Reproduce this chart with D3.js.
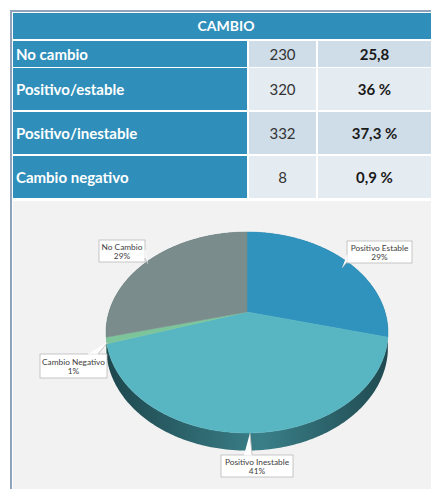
<!DOCTYPE html>
<html><head><meta charset="utf-8">
<script src="https://cdn.jsdelivr.net/npm/d3@7"></script>
<style>body{margin:0;background:#fff;}svg{display:block;}</style>
</head><body>
<svg id="c" width="431" height="489"></svg>
<script>
// ---- data ----
const tableTitle = "CAMBIO";
const categories = ["No cambio", "Positivo/estable", "Positivo/inestable", "Cambio negativo"];
const counts = [230, 320, 332, 8];
const percentLabels = ["25,8", "36 %", "37,3 %", "0,9 %"];
const pieCategories = ["Positivo Estable", "Positivo Inestable", "Cambio Negativo", "No Cambio"];
const pieValues = [29, 41, 1, 29];

// ---- styles ----
const svg = d3.select("#c");
const FONT = "Lato, 'Open Sans', sans-serif";
const blue = "#2f8fba";
const valDark = "#cfdde8", valLight = "#e4ecf2";
const topColors = ["#3093bd", "#57b6c2", "#7cc59a", "#7a8c8c"];
const sideColors = [["#1e5a75","#2a7699","#1e5a75"], ["#1d454c","#3a7f88","#1f484f"], ["#3f7a5c","#4f8f6c","#3f7a5c"], ["#3f4c4c","#55676a","#3f4c4c"]];

// frame
svg.append("rect").attr("x", 10).attr("y", 10).attr("width", 421).attr("height", 479).attr("fill", "#8fa3bd");
svg.append("rect").attr("x", 12).attr("y", 12).attr("width", 419).attr("height", 477).attr("fill", "#ffffff");
svg.append("rect").attr("x", 13).attr("y", 201).attr("width", 418).attr("height", 288).attr("fill", "#f2f2f2");

// ---- table ----
const colX = [13, 249, 318, 431];
const rowY = d3.scaleOrdinal().domain(categories).range([41, 68, 112, 156]);
const rowH = d3.scaleOrdinal().domain(categories).range([26, 42, 42, 42]);
svg.append("rect").attr("x", 13).attr("y", 13).attr("width", 418).attr("height", 26).attr("fill", blue);
svg.append("text").attr("x", 226).attr("y", 31).attr("text-anchor", "middle")
  .attr("font-family", FONT).attr("font-weight", 700).attr("font-size", 14).attr("fill", "#fff").text(tableTitle);

const rows = svg.append("g").selectAll("g").data(categories).join("g");
rows.append("rect").attr("x", colX[0]).attr("y", d => rowY(d)).attr("width", colX[1] - 2 - colX[0]).attr("height", d => rowH(d)).attr("fill", blue);
rows.append("rect").attr("x", colX[1]).attr("y", d => rowY(d)).attr("width", colX[2] - 2 - colX[1]).attr("height", d => rowH(d)).attr("fill", (d, i) => i % 2 ? valLight : valDark);
rows.append("rect").attr("x", colX[2]).attr("y", d => rowY(d)).attr("width", colX[3] - colX[2]).attr("height", d => rowH(d)).attr("fill", (d, i) => i % 2 ? valLight : valDark);
rows.append("text").attr("x", 16).attr("y", d => rowY(d) + rowH(d) / 2 + 5.5)
  .attr("font-family", FONT).attr("font-weight", 700).attr("font-size", 15).attr("fill", "#fff").text(d => d);
rows.append("text").attr("x", (colX[1] + colX[2] - 2) / 2).attr("y", d => rowY(d) + rowH(d) / 2 + 5.5).attr("text-anchor", "middle")
  .attr("font-family", FONT).attr("font-size", 15).attr("fill", "#333").text((d, i) => counts[i]);
rows.append("text").attr("x", (colX[2] + colX[3]) / 2).attr("y", d => rowY(d) + rowH(d) / 2 + 5.5).attr("text-anchor", "middle")
  .attr("font-family", FONT).attr("font-weight", 700).attr("font-size", 15).attr("fill", "#1a1a1a").text((d, i) => percentLabels[i]);

// ---- 3D pie ----
const X0 = 247, Y0 = 312, A = 138, B = 96.3, K = 0.204, H = 14;
function proj(theta, dy) {
  const u = Math.sin(theta), v = -Math.cos(theta);
  const w = 1 - K * v;
  return [X0 + A * u / w, Y0 + B * v / w + (dy || 0) / w];
}
const pie = d3.pie().sort(null).value(d => d).startAngle(0).endAngle(2 * Math.PI);
const arcs = pie(pieValues);
function arcPts(a0, a1, dy) {
  const n = Math.max(2, Math.ceil((a1 - a0) / 0.01));
  return d3.range(n + 1).map(i => proj(a0 + (a1 - a0) * i / n, dy));
}
const defs = svg.append("defs");
sideColors.forEach((c, i) => {
  const g = defs.append("linearGradient").attr("id", "sg" + i).attr("gradientUnits", "userSpaceOnUse")
    .attr("x1", X0 - 145).attr("x2", X0 + 145).attr("y1", 0).attr("y2", 0);
  g.append("stop").attr("offset", 0).attr("stop-color", c[0]);
  g.append("stop").attr("offset", 0.55).attr("stop-color", c[1]);
  g.append("stop").attr("offset", 1).attr("stop-color", c[2]);
});
const line = d3.line();
const pg = svg.append("g");
arcs.forEach((a, i) => {
  const top = arcPts(a.startAngle, a.endAngle, 0);
  const bot = arcPts(a.startAngle, a.endAngle, H).reverse();
  pg.append("path").attr("d", line(top.concat(bot)) + "Z").attr("fill", `url(#sg${i})`).attr("stroke", "none");
});
arcs.forEach((a, i) => {
  const pts = [[X0, Y0]].concat(arcPts(a.startAngle, a.endAngle, 0));
  pg.append("path").attr("d", line(pts) + "Z").attr("fill", topColors[i]).attr("stroke", topColors[i]).attr("stroke-width", 0.5);
});

// ---- callout labels ----
const callouts = [
  {box: [347, 241, 65, 22], ptr: [[347, 255], [347, 262], [342, 268]]},
  {box: [221, 455, 72, 22], ptr: [[244, 455], [252, 455], [250, 433]]},
  {box: [40, 354, 67, 24], ptr: [[88, 354], [98, 354], [108, 342]]},
  {box: [99, 240, 46, 22], ptr: [[145, 250], [145, 258], [148, 264]]}
];
const lg = svg.append("g");
callouts.forEach((c, i) => {
  const [x, y, w, h] = c.box;
  lg.append("rect").attr("x", x).attr("y", y).attr("width", w).attr("height", h)
    .attr("fill", "#fff").attr("stroke", "#b9b9b9").attr("stroke-width", 0.8);
  lg.append("path").attr("d", line(c.ptr)).attr("fill", "#fff").attr("stroke", "#b9b9b9").attr("stroke-width", 0.8);
  lg.append("line").attr("x1", c.ptr[0][0]).attr("y1", c.ptr[0][1]).attr("x2", c.ptr[1][0]).attr("y2", c.ptr[1][1])
    .attr("stroke", "#fff").attr("stroke-width", 1.4);
  lg.append("text").attr("x", x + w / 2).attr("y", y + h / 2 - 1.5).attr("text-anchor", "middle")
    .attr("font-family", FONT).attr("font-size", 8.3).attr("fill", "#404040").text(pieCategories[i]);
  lg.append("text").attr("x", x + w / 2).attr("y", y + h / 2 + 7.5).attr("text-anchor", "middle")
    .attr("font-family", FONT).attr("font-size", 8.3).attr("fill", "#404040").text(pieValues[i] + "%");
});
</script>
</body></html>
